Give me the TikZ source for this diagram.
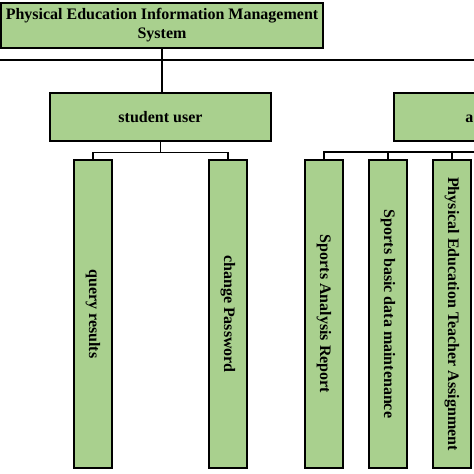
\documentclass[tikz,border=0pt]{standalone}
\usepackage{fontspec}
\setmainfont{Liberation Serif}
\definecolor{boxgreen}{RGB}{169,208,142}

\begin{document}
\begin{tikzpicture}[
    x=1pt, y=-1pt,
    grow=down,
    every node/.style={
        font=\fontsize{16}{19}\selectfont\bfseries,
        align=center
    },
    greenbox/.style={draw=black, line width=1.5pt, fill=boxgreen, inner sep=0pt},
    rootbox/.style={greenbox, minimum width=322pt, minimum height=45pt},
    userbox/.style={greenbox, minimum width=221pt, minimum height=48pt},
    funcbox/.style={greenbox, minimum width=38pt, minimum height=308pt},
    link/.style={draw, line width=1.3pt},
    level 1/.style={
        level distance=197pt,
        sibling distance=135pt
    },
    edge from parent/.style={link},
    edge from parent path={(\tikzparentnode.south) -- ++(0,11) -| (\tikzchildnode.north)}
]
\useasboundingbox (0,0) rectangle (474,474);
\clip (0,0) rectangle (474,474);

% top level
\node[rootbox] (pe) at (162,25.3) {Physical Education Information Management\\System};
\coordinate (busL) at (-10,60);
\coordinate (busR) at (484,60);
\draw[link] (busL) -- (busR);

% student side
\node[userbox] (stu) at (160.5,117) {student user}
    child { node[funcbox] (qry) {\rotatebox{-90}{query results}} }
    child { node[funcbox] (pwd) {\rotatebox{-90}{change Password}} };
\draw[link] (pe.south) -- (pe.south |- stu.north);

% admin side (cut at the edge)
\node[userbox] (adm) at (504.5,117) {};
\node[anchor=base west, inner sep=0pt, xshift=72pt] (admtxt) at (adm.west |- stu.base) {a};

\node[funcbox] (sar) at (324,314) {\rotatebox{-90}{Sports Analysis Report}};
\node[funcbox] (sbd) at (388,314) {\rotatebox{-90}{Sports basic data maintenance}};
\node[funcbox] (pet) at (452,314) {\rotatebox{-90}{Physical Education Teacher Assignment}};
\coordinate (admbus) at (484,152);
\draw[link] (sar.north) |- (admbus);
\foreach \n in {sbd,pet}
    \draw[link] (\n.north) -- (\n.north |- admbus);

\end{tikzpicture}
\end{document}
